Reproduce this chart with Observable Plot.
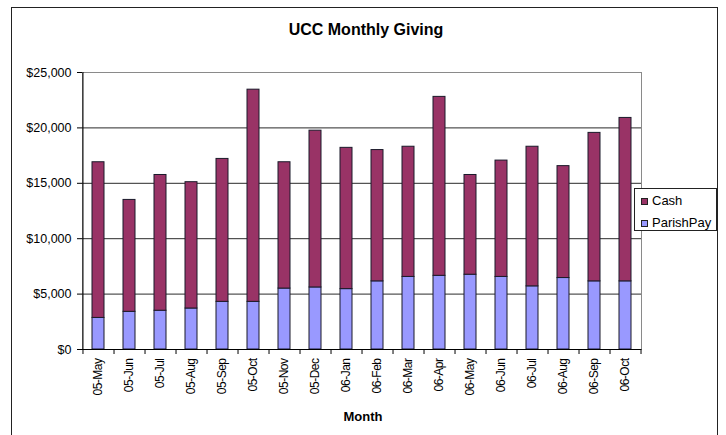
<!DOCTYPE html>
<html>
<head>
<meta charset="utf-8">
<script src="https://cdn.jsdelivr.net/npm/d3@7"></script>
<script src="https://cdn.jsdelivr.net/npm/@observablehq/plot@0.6"></script>
<style>
  body { margin: 0; background: #fff; font-family: "Liberation Sans", Arial, sans-serif; }
  #wrap { position: relative; width: 726px; height: 435px; overflow: hidden; background: #fff; }
  #wrap svg { position: absolute; left: 0; top: 0; }
  #border { position: absolute; left: 11px; top: 7px; width: 707px; height: 460px; border: 1px solid #222; box-sizing: border-box; }
  #title { position: absolute; left: 166px; width: 400px; top: 22px; text-align: center; font-size: 16px; line-height: 16px; font-weight: bold; color: #000; }
  #xlabel { position: absolute; left: 263px; width: 200px; top: 410px; text-align: center; font-size: 13px; line-height: 13px; font-weight: bold; color: #000; }
  #legend { position: absolute; left: 634px; top: 188px; width: 83px; height: 43px; border: 1px solid #222; box-sizing: border-box; background: #fff; }
  .sw { position: absolute; width: 7px; height: 7px; border: 1px solid #222; box-sizing: border-box; }
  .lt { position: absolute; font-size: 13px; line-height: 13px; color: #000; white-space: nowrap; }
  g[aria-label="x-axis tick label"] text { letter-spacing: -0.5px; }
</style>
</head>
<body>
<div id="wrap">
  <div id="border"></div>
  <div id="title">UCC Monthly Giving</div>
  <div id="xlabel">Month</div>
</div>
<script>
// ---- data ----
const months = ["05-May","05-Jun","05-Jul","05-Aug","05-Sep","05-Oct","05-Nov","05-Dec",
                "06-Jan","06-Feb","06-Mar","06-Apr","06-May","06-Jun","06-Jul","06-Aug","06-Sep","06-Oct"];
const parishPay = [2850, 3400, 3500, 3700, 4300, 4300, 5500, 5600, 5450, 6150, 6550, 6650, 6750, 6550, 5700, 6450, 6150, 6150];
const cash      = [14050, 10100, 12250, 11400, 12900, 19150, 11400, 14150, 12750, 11850, 11750, 16150, 9000, 10500, 12600, 10100, 13400, 14750];
const seriesNames = ["Cash", "ParishPay"];
const seriesColors = ["#993366", "#9999FF"];
const yTicks = [0, 5000, 10000, 15000, 20000, 25000];

// ---- layout ----
const W = 726, H = 435;
const mL = 82, mR = 85, mT = 72, mB = 86;
const step = (W - mL - mR) / months.length;

const rows = [
  ...months.map((m, i) => ({month: m, series: "ParishPay", value: parishPay[i]})),
  ...months.map((m, i) => ({month: m, series: "Cash", value: cash[i]}))
];

const chart = Plot.plot({
  width: W, height: H,
  marginLeft: mL, marginRight: mR, marginTop: mT, marginBottom: mB,
  style: {fontFamily: "'Liberation Sans', Arial, sans-serif", color: "#000", background: "transparent", overflow: "visible"},
  x: {domain: months, paddingInner: 0.6, paddingOuter: 0.3, align: 0.5, label: null},
  y: {domain: [0, 25000], label: null},
  color: {domain: seriesNames, range: seriesColors},
  marks: [
    Plot.frame({stroke: "#8a8a8a"}),
    Plot.gridY(yTicks.slice(1, -1), {stroke: "#2a2a2a", strokeOpacity: 1}),
    Plot.barY(rows, {x: "month", y: "value", fill: "series", order: ["ParishPay", "Cash"], stroke: "#1a1a2a", strokeWidth: 1}),
    Plot.ruleY([0], {stroke: "#000"}),
    Plot.ruleX([months[0]], {y1: 0, y2: 25000, dx: -step / 2, stroke: "#000"}),
    Plot.axisX(months, {tickSize: 5, tickFormat: () => "", dx: step / 2, stroke: "#000", label: null}),
    Plot.axisX([months[0]], {tickSize: 5, tickFormat: () => "", dx: -step / 2, stroke: "#000", label: null}),
    Plot.axisX({tickSize: 0, tickPadding: 9, tickRotate: -90, fontSize: 12, label: null}),
    Plot.axisY({ticks: yTicks, tickSize: 5, tickPadding: 6, tickFormat: d3.format("$,.0f"), fontSize: 12.5, label: null, stroke: "#000"})
  ]
});
const wrap = document.getElementById("wrap");
wrap.insertBefore(chart, document.getElementById("title"));

// ---- legend ----
const legend = document.createElement("div");
legend.id = "legend";
wrap.appendChild(legend);
const legendTops = [195, 217];
seriesNames.forEach((name, i) => {
  const sw = document.createElement("div");
  sw.className = "sw";
  sw.style.left = (640 - 634) + "px";
  sw.style.top = (legendTops[i] + 2 - 188) + "px";
  sw.style.background = seriesColors[i];
  legend.appendChild(sw);
  const t = document.createElement("div");
  t.className = "lt";
  t.style.left = (651 - 634) + "px";
  t.style.top = (legendTops[i] - 2 - 188) + "px";
  t.textContent = name;
  legend.appendChild(t);
});
</script>
</body>
</html>
